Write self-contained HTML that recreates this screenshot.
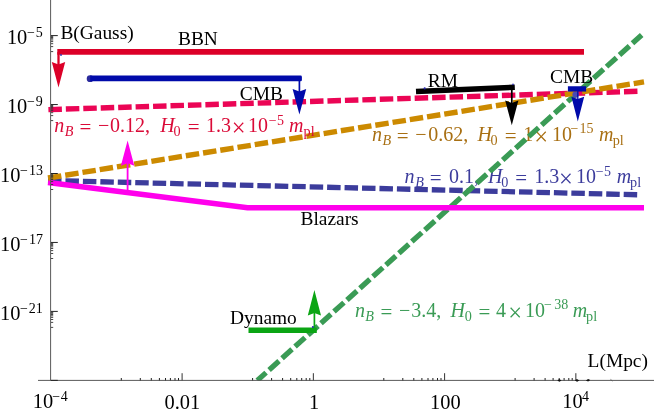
<!DOCTYPE html>
<html>
<head>
<meta charset="utf-8">
<title>Magnetic field constraints</title>
<style>
  html, body { margin: 0; padding: 0; background: #ffffff; }
  body { width: 654px; height: 414px; overflow: hidden; }
  svg { display: block; will-change: transform; }
  text { font-family: "Liberation Serif", serif; white-space: pre; }
</style>
</head>
<body>
<svg width="654" height="414" viewBox="0 0 654 414">
  <defs><clipPath id="plotclip"><rect x="0" y="0" width="654" height="380.9"/></clipPath></defs>
  <rect x="0" y="0" width="654" height="414" fill="#ffffff"/>
  <g fill="#000000">
    <text x="6.9" y="44.0" font-size="20.4">10</text><text x="26.9" y="36.9" font-size="14.0">−</text><text x="35.7" y="36.9" font-size="14.0">5</text>
    <text x="6.9" y="113.0" font-size="20.4">10</text><text x="26.9" y="105.9" font-size="14.0">−</text><text x="35.7" y="105.9" font-size="14.0">9</text>
    <text x="0.0" y="181.9" font-size="20.4">10</text><text x="19.9" y="174.8" font-size="14.0">−</text><text x="29.0" y="174.8" font-size="14.0">13</text>
    <text x="0.0" y="250.9" font-size="20.4">10</text><text x="19.9" y="243.8" font-size="14.0">−</text><text x="29.0" y="243.8" font-size="14.0">17</text>
    <text x="0.0" y="319.8" font-size="20.4">10</text><text x="19.9" y="312.7" font-size="14.0">−</text><text x="28.8" y="312.7" font-size="14.0">21</text>
    <text x="32.7" y="408.3" font-size="20.4">10</text><text x="52.2" y="401.2" font-size="14.0">−</text><text x="60.7" y="401.2" font-size="14.0">4</text>
    <text x="164.5" y="409.3" font-size="20.4">0.01</text>
    <text x="308.9" y="409.3" font-size="20.4">1</text>
    <text x="430.1" y="409.3" font-size="20.4">100</text>
    <text x="562.3" y="408.3" font-size="20.4">10</text><text x="581.9" y="401.2" font-size="14.0">4</text>
  </g>
  <g fill="#A86F12">
    <text x="371.9" y="141.0" font-size="20.0" font-style="italic">n</text>
    <text x="382.5" y="144.6" font-size="14.2" font-style="italic">B</text>
    <text x="396.8" y="143.1" font-size="21.0">=</text>
    <text x="415.3" y="141.0" font-size="20.0">−</text>
    <text x="428.2" y="141.0" font-size="20.0">0.62,</text>
    <text x="477.5" y="141.0" font-size="20.0" font-style="italic">H</text>
    <text x="490.5" y="144.6" font-size="14.2">0</text>
    <text x="504.8" y="143.1" font-size="21.0">=</text>
    <text x="523.2" y="141.0" font-size="20.0">1</text>
    <text x="534.3" y="144.6" font-size="24.5">×</text>
    <text x="552.1" y="141.0" font-size="20.0">10</text>
    <text x="570.6" y="133.4" font-size="14.0">−</text>
    <text x="579.5" y="133.4" font-size="14.0">15</text>
    <text x="598.9" y="141.0" font-size="20.0" font-style="italic">m</text>
    <text x="612.7" y="144.6" font-size="14.2">pl</text>
  </g>
  <g fill="#3C3C9C">
    <text x="404.6" y="183.1" font-size="20.0" font-style="italic">n</text>
    <text x="415.2" y="186.7" font-size="14.2" font-style="italic">B</text>
    <text x="429.8" y="185.2" font-size="21.0">=</text>
    <text x="448.9" y="183.1" font-size="20.0">0.1,</text>
    <text x="488.1" y="183.1" font-size="20.0" font-style="italic">H</text>
    <text x="501.3" y="186.7" font-size="14.2">0</text>
    <text x="515.2" y="185.2" font-size="21.0">=</text>
    <text x="534.2" y="183.1" font-size="20.0">1.3</text>
    <text x="558.9" y="186.7" font-size="24.5">×</text>
    <text x="575.9" y="183.1" font-size="20.0">10</text>
    <text x="595.8" y="175.5" font-size="14.0">−</text>
    <text x="604.0" y="175.5" font-size="14.0">5</text>
    <text x="616.7" y="183.1" font-size="20.0" font-style="italic">m</text>
    <text x="630.1" y="186.7" font-size="14.2">pl</text>
  </g>
  <!-- model curves and observational bounds -->
  <line x1="48" y1="180.5" x2="640" y2="194.8" stroke="#3C3C9C" stroke-width="5.3" stroke-dasharray="13.5 3.95"/>
  <line x1="257.3" y1="380.5" x2="641.7" y2="35.0" stroke="#3A9B55" stroke-width="5.3" stroke-dasharray="13.4 4.05" stroke-dashoffset="1.6" clip-path="url(#plotclip)"/>
  <polyline points="48,182.5 247.5,207.7 644,207.7" stroke="#FF00EC" stroke-width="5.4" fill="none"/>
  <line x1="48.4" y1="109.6" x2="638" y2="91.3" stroke="#EB0555" stroke-width="5.4" stroke-dasharray="13.5 3.95"/>
  <line x1="48" y1="178" x2="644" y2="81.9" stroke="#CC8A00" stroke-width="5.4" stroke-dasharray="13.5 3.95"/>
  <line x1="57.3" y1="51.8" x2="584" y2="51.8" stroke="#DC0028" stroke-width="5.8"/>
  <line x1="58.5" y1="52" x2="58.5" y2="65.5" stroke="#DC0028" stroke-width="2.3"/>
  <path d="M58.5 87.5 L51.80 62.0 L58.5 64.5 L65.20 62.0 Z" fill="#DC0028"/>
  <circle cx="90.1" cy="78.7" r="3.4" fill="#2a2a9c"/>
  <path d="M90.2 75.6H300.6a1.3 1.3 0 0 1 1.3 1.3v3a1.3 1.3 0 0 1 -1.3 1.3H90.2z" fill="#000AAA"/>
  <line x1="299.4" y1="78" x2="299.4" y2="92.5" stroke="#000AAA" stroke-width="1.7"/>
  <path d="M299.4 114.6 L292.60 89.1 L299.4 91.5 L306.20 89.1 Z" fill="#000AAA"/>
  <line x1="416" y1="91.6" x2="514.8" y2="87.2" stroke="#000" stroke-width="5.5"/>
  <line x1="511.8" y1="87" x2="511.8" y2="104.0" stroke="#000" stroke-width="1.7"/>
  <path d="M511.8 125.2 L505.20 100.6 L511.8 103.0 L518.40 100.6 Z" fill="#000"/>
  <circle cx="575.6" cy="94.6" r="3.2" fill="#4a4ab6"/>
  <line x1="567.9" y1="88.9" x2="586.1" y2="88.9" stroke="#000AAA" stroke-width="5.3"/>
  <line x1="577.8" y1="89" x2="577.8" y2="100.0" stroke="#000AAA" stroke-width="1.3"/>
  <path d="M577.8 121.6 L571.40 96.8 L577.8 99.0 L584.20 96.8 Z" fill="#000AAA"/>
  <line x1="127.6" y1="192" x2="127.6" y2="162.3" stroke="#FF00EC" stroke-width="1.8"/>
  <path d="M127.6 140.6 L120.90 165.7 L127.6 163.3 L134.30 165.7 Z" fill="#FF00EC"/>
  <line x1="248.5" y1="330.2" x2="316.8" y2="330.2" stroke="#0BA514" stroke-width="5.6"/>
  <line x1="314.4" y1="330" x2="314.4" y2="312.0" stroke="#0BA514" stroke-width="1.7"/>
  <path d="M314.4 290.1 L307.80 315.4 L314.4 313.0 L321.00 315.4 Z" fill="#0BA514"/>
  <g fill="#2a2ab0"><circle cx="312.8" cy="327" r="1"/><circle cx="61" cy="55" r="0.9"/><circle cx="424.7" cy="88.4" r="1.1"/><circle cx="513" cy="84.4" r="0.8"/></g>
  <g font-size="19.4" fill="#000000">
    <text x="60.4" y="38.6">B(Gauss)</text>
    <text x="178" y="45.2">BBN</text>
    <text x="239.8" y="99.5">CMB</text>
    <text x="427.8" y="86.7">RM</text>
    <text x="550" y="82.5">CMB</text>
    <text x="300.5" y="224.5">Blazars</text>
    <text x="230" y="323.8">Dynamo</text>
    <text x="587.6" y="366.9">L(Mpc)</text>
  </g>
  <g fill="#DA0A37">
    <text x="54.2" y="132.3" font-size="20.0" font-style="italic">n</text>
    <text x="64.8" y="135.9" font-size="14.2" font-style="italic">B</text>
    <text x="79.5" y="134.4" font-size="21.0">=</text>
    <text x="97.9" y="132.3" font-size="20.0">−</text>
    <text x="110.0" y="132.3" font-size="20.0">0.12,</text>
    <text x="160.3" y="132.3" font-size="20.0" font-style="italic">H</text>
    <text x="173.4" y="135.9" font-size="14.2">0</text>
    <text x="187.8" y="134.4" font-size="21.0">=</text>
    <text x="206.1" y="132.3" font-size="20.0">1.3</text>
    <text x="231.7" y="135.9" font-size="24.5">×</text>
    <text x="248.1" y="132.3" font-size="20.0">10</text>
    <text x="268.8" y="124.7" font-size="14.0">−</text>
    <text x="277.0" y="124.7" font-size="14.0">5</text>
    <text x="289.1" y="132.3" font-size="20.0" font-style="italic">m</text>
    <text x="303.6" y="135.9" font-size="14.2">pl</text>
  </g>
  <g fill="#3A9B55">
    <text x="355.0" y="317.0" font-size="20.0" font-style="italic">n</text>
    <text x="365.2" y="320.6" font-size="14.2" font-style="italic">B</text>
    <text x="380.4" y="319.1" font-size="21.0">=</text>
    <text x="399.0" y="317.0" font-size="20.0">−</text>
    <text x="411.2" y="317.0" font-size="20.0">3.4,</text>
    <text x="450.6" y="317.0" font-size="20.0" font-style="italic">H</text>
    <text x="464.7" y="320.6" font-size="14.2">0</text>
    <text x="478.6" y="319.1" font-size="21.0">=</text>
    <text x="495.9" y="317.0" font-size="20.0">4</text>
    <text x="508.3" y="320.6" font-size="24.5">×</text>
    <text x="524.9" y="317.0" font-size="20.0">10</text>
    <text x="544.1" y="309.4" font-size="14.0">−</text>
    <text x="554.3" y="309.4" font-size="14.0">38</text>
    <text x="572.7" y="317.0" font-size="20.0" font-style="italic">m</text>
    <text x="586.1" y="320.6" font-size="14.2">pl</text>
  </g>
  <!-- axes -->
  <g stroke="#5a5a5a" stroke-width="1" fill="none">
    <line x1="50.6" y1="0" x2="50.6" y2="381"/>
    <line x1="38" y1="380.4" x2="654" y2="380.4"/>
  </g>
  <path d="M51 35.60H57.8 M51 104.55H57.8 M51 173.50H57.8 M51 242.45H57.8 M51 311.40H57.8 M51 380.35H57.8" stroke="#222" stroke-width="1" fill="none"/>
  <path d="M51 51.6H53.2 M51 46.6H53.2 M51 43.7H53.2 M51 41.6H53.2 M51 40.0H53.2 M51 38.7H53.2 M51 37.5H53.2 M51 36.6H53.2 M51 120.6H53.2 M51 115.6H53.2 M51 112.7H53.2 M51 110.6H53.2 M51 109.0H53.2 M51 107.7H53.2 M51 106.5H53.2 M51 105.5H53.2 M51 189.5H53.2 M51 184.5H53.2 M51 181.6H53.2 M51 179.5H53.2 M51 177.9H53.2 M51 176.6H53.2 M51 175.4H53.2 M51 174.4H53.2 M51 258.5H53.2 M51 253.5H53.2 M51 250.6H53.2 M51 248.5H53.2 M51 246.9H53.2 M51 245.6H53.2 M51 244.4H53.2 M51 243.4H53.2 M51 327.4H53.2 M51 322.4H53.2 M51 319.5H53.2 M51 317.4H53.2 M51 315.8H53.2 M51 314.5H53.2 M51 313.3H53.2 M51 312.4H53.2" stroke="#333" stroke-width="0.9" fill="none"/>
  <path d="M182.10 380.4V373.2 M313.35 380.4V373.2 M444.60 380.4V373.2 M575.85 380.4V373.2" stroke="#333" stroke-width="1" fill="none"/>
  <path d="M121.3 380.4V378 M140.3 380.4V378 M151.3 380.4V378 M159.4 380.4V378 M165.5 380.4V378 M170.4 380.4V378 M175.0 380.4V378 M178.5 380.4V378 M252.6 380.4V378 M271.6 380.4V378 M282.6 380.4V378 M290.7 380.4V378 M296.8 380.4V378 M301.7 380.4V378 M306.2 380.4V378 M309.8 380.4V378 M383.8 380.4V378 M402.8 380.4V378 M413.8 380.4V378 M421.9 380.4V378 M428.0 380.4V378 M432.9 380.4V378 M437.5 380.4V378 M441.0 380.4V378 M515.1 380.4V378 M534.1 380.4V378 M545.1 380.4V378 M553.1 380.4V378 M559.2 380.4V378 M564.1 380.4V378 M568.8 380.4V378 M572.2 380.4V378" stroke="#222" stroke-width="1" fill="none"/>
  <path d="M557.3 380.5l2 -1.5l2.2 1.4l-2.1 1.3z M574.9 380.5l2 -1.5l2.4 1.4l-2.2 1.3z M585.9 380.6l2.2 -1.6l2.2 1.1l-2.2 1.5z" fill="#111"/>
  <path d="M610.5 379.4l2 1.6" stroke="#555" stroke-width="0.8" fill="none"/>
</svg>
</body>
</html>
